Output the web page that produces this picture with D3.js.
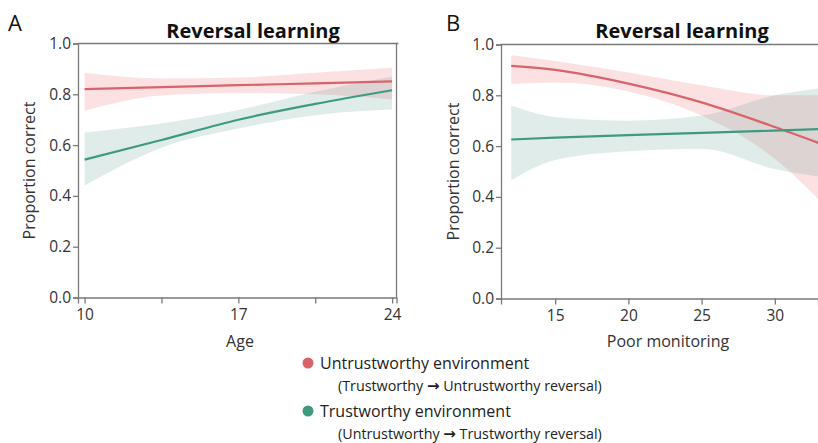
<!DOCTYPE html>
<html><head><meta charset="utf-8">
<script src="https://cdn.jsdelivr.net/npm/d3@7"></script>
<style>body{margin:0;background:#fff}svg{display:block;font-family:"Open Sans",sans-serif}</style>
</head><body>
<svg id="c" width="818" height="443"></svg>
<script>
// Panel A data (Age)
const ageX      = [10, 13.5, 17, 20.5, 24];
const ageRedMid = [0.820, 0.828, 0.836, 0.843, 0.851];
const ageRedLo  = [0.735, 0.795, 0.805, 0.800, 0.780];
const ageRedHi  = [0.884, 0.862, 0.866, 0.885, 0.905];
const ageGrnMid = [0.543, 0.620, 0.700, 0.762, 0.816];
const ageGrnLo  = [0.441, 0.590, 0.665, 0.718, 0.740];
const ageGrnHi  = [0.650, 0.685, 0.738, 0.810, 0.870];
const ageTicks  = [10, 17, 24];
const ageMinor  = [13.5, 20.5];

// Panel B data (Poor monitoring)
const monX      = [12, 15, 20, 25, 30, 33];
const monRedMid = [0.916, 0.900, 0.846, 0.772, 0.675, 0.612];
const monRedLo  = [0.844, 0.850, 0.815, 0.720, 0.550, 0.390];
const monRedHi  = [0.958, 0.935, 0.890, 0.840, 0.800, 0.800];
const monGrnMid = [0.626, 0.633, 0.643, 0.652, 0.661, 0.667];
const monGrnLo  = [0.466, 0.545, 0.580, 0.590, 0.510, 0.480];
const monGrnHi  = [0.760, 0.715, 0.700, 0.720, 0.800, 0.827];
const monTicks  = [15, 20, 25, 30];

const yTicks = [0, 0.2, 0.4, 0.6, 0.8, 1.0];
const titles = ["Reversal learning", "Reversal learning"];
const xLabels = ["Age", "Poor monitoring"];
const legendMain = ["Untrustworthy environment", "Trustworthy environment"];
const legendSub = [["(Trustworthy ", "Untrustworthy reversal)"], ["(Untrustworthy ", "Trustworthy reversal)"]];

const RED = "#d8636a", GRN = "#3f9a80";
const svg = d3.select("#c");
const axisCol = "#7a7a7a", txtCol = "#333";

function panel(o) {
  const x = d3.scaleLinear().domain(o.xdom).range([o.x0, o.x1]);
  const y = d3.scaleLinear().domain([0, 1]).range([o.y1, o.y0]);
  const g = svg.append("g");
  const clipId = "clip" + o.letter;
  svg.append("clipPath").attr("id", clipId).append("rect")
    .attr("x", o.x0).attr("y", o.y0).attr("width", o.x1 - o.x0).attr("height", o.y1 - o.y0);
  const pg = g.append("g").attr("clip-path", `url(#${clipId})`);
  const area = d3.area().curve(d3.curveMonotoneX).x(d => x(d.x)).y0(d => y(d.lo)).y1(d => y(d.hi));
  const line = d3.line().curve(d3.curveMonotoneX).x(d => x(d.x)).y(d => y(d.m));
  const mk = (m, lo, hi) => o.xs.map((v, i) => ({x: v, m: m[i], lo: lo[i], hi: hi[i]}));
  const red = mk(o.rm, o.rl, o.rh), grn = mk(o.gm, o.gl, o.gh);
  pg.append("path").datum(red).attr("d", area).attr("fill", "rgb(235,120,125)").attr("fill-opacity", 0.22);
  pg.append("path").datum(grn).attr("d", area).attr("fill", "rgb(95,160,148)").attr("fill-opacity", 0.2);
  pg.append("path").datum(red).attr("d", line).attr("fill", "none").attr("stroke", RED).attr("stroke-width", 2.2);
  pg.append("path").datum(grn).attr("d", line).attr("fill", "none").attr("stroke", GRN).attr("stroke-width", 2.2);

  // frame
  g.append("line").attr("x1", o.x0).attr("x2", o.x1 + 2).attr("y1", o.y0).attr("y2", o.y0).attr("stroke", axisCol).attr("stroke-width", 1.3);
  if (o.rightBorder) g.append("line").attr("x1", o.x1).attr("x2", o.x1).attr("y1", o.y0).attr("y2", o.y1).attr("stroke", axisCol).attr("stroke-width", 1.3);

  g.append("g").attr("transform", `translate(${o.x0},0)`)
    .call(d3.axisLeft(y).tickValues(yTicks).tickFormat(d3.format(".1f")).tickSize(5).tickPadding(2));
  g.append("g").attr("transform", `translate(0,${o.y1})`)
    .call(d3.axisBottom(x).tickValues(o.ticks).tickFormat(d3.format("d")).tickSize(6).tickPadding(5));
  if (o.minor) g.append("g").attr("transform", `translate(0,${o.y1})`)
    .call(d3.axisBottom(x).tickValues(o.minor).tickFormat("").tickSize(6))
    .call(s => s.select(".domain").remove());
  g.selectAll(".domain").attr("stroke", axisCol).attr("stroke-width", 1.3);
  g.selectAll(".tick line").attr("stroke", axisCol).attr("stroke-width", 1.3);
  g.selectAll(".tick text").attr("fill", txtCol).style("font-size", "15.5px").style("font-family", "Open Sans, sans-serif");

  g.append("text").attr("x", o.titleX).attr("y", 38).attr("text-anchor", "middle")
    .style("font-size", "20px").style("font-weight", "bold").attr("fill", "#111").text(o.title);
  g.append("text").attr("x", o.letterX).attr("y", 31).style("font-size", "22px").attr("fill", "#111").text(o.letter);
  g.append("text").attr("transform", `translate(${o.ylabX},${(o.y0 + o.y1) / 2}) rotate(-90)`)
    .attr("text-anchor", "middle").style("font-size", "16px").attr("fill", txtCol).text("Proportion correct");
  g.append("text").attr("x", o.xlabX).attr("y", 347).attr("text-anchor", "middle")
    .style("font-size", "16px").attr("fill", txtCol).text(o.xlab);
}

panel({letter: "A", xdom: [9.7, 24.2], x0: 78, x1: 396.5, y0: 43.5, y1: 297.5,
  xs: ageX, rm: ageRedMid, rl: ageRedLo, rh: ageRedHi, gm: ageGrnMid, gl: ageGrnLo, gh: ageGrnHi,
  ticks: ageTicks, minor: ageMinor, rightBorder: true, title: titles[0], titleX: 253, letterX: 8,
  ylabX: 35, xlab: xLabels[0], xlabX: 240});
panel({letter: "B", xdom: [11.3, 32.95], x0: 501, x1: 818, y0: 44.5, y1: 298.5,
  xs: monX, rm: monRedMid, rl: monRedLo, rh: monRedHi, gm: monGrnMid, gl: monGrnLo, gh: monGrnHi,
  ticks: monTicks, minor: null, rightBorder: false, title: titles[1], titleX: 682, letterX: 446,
  ylabX: 459, xlab: xLabels[1], xlabX: 668});

// legend
const lg = svg.append("g");
[RED, GRN].forEach((c, i) => {
  const cy = 363 + i * 48;
  lg.append("circle").attr("cx", 308).attr("cy", cy).attr("r", 5.5).attr("fill", c);
  lg.append("text").attr("x", 320).attr("y", cy + 6).style("font-size", "16px").attr("fill", "#222").text(legendMain[i]);
  const t = lg.append("text").attr("x", 338).attr("y", cy + 28).style("font-size", "14.3px").attr("fill", "#222");
  t.append("tspan").text(legendSub[i][0]);
  t.append("tspan").style("font-family", "DejaVu Sans").style("font-weight", "bold").style("font-size", "15px").text("\u2192");
  t.append("tspan").text(" " + legendSub[i][1]);
});
</script>
</body></html>
